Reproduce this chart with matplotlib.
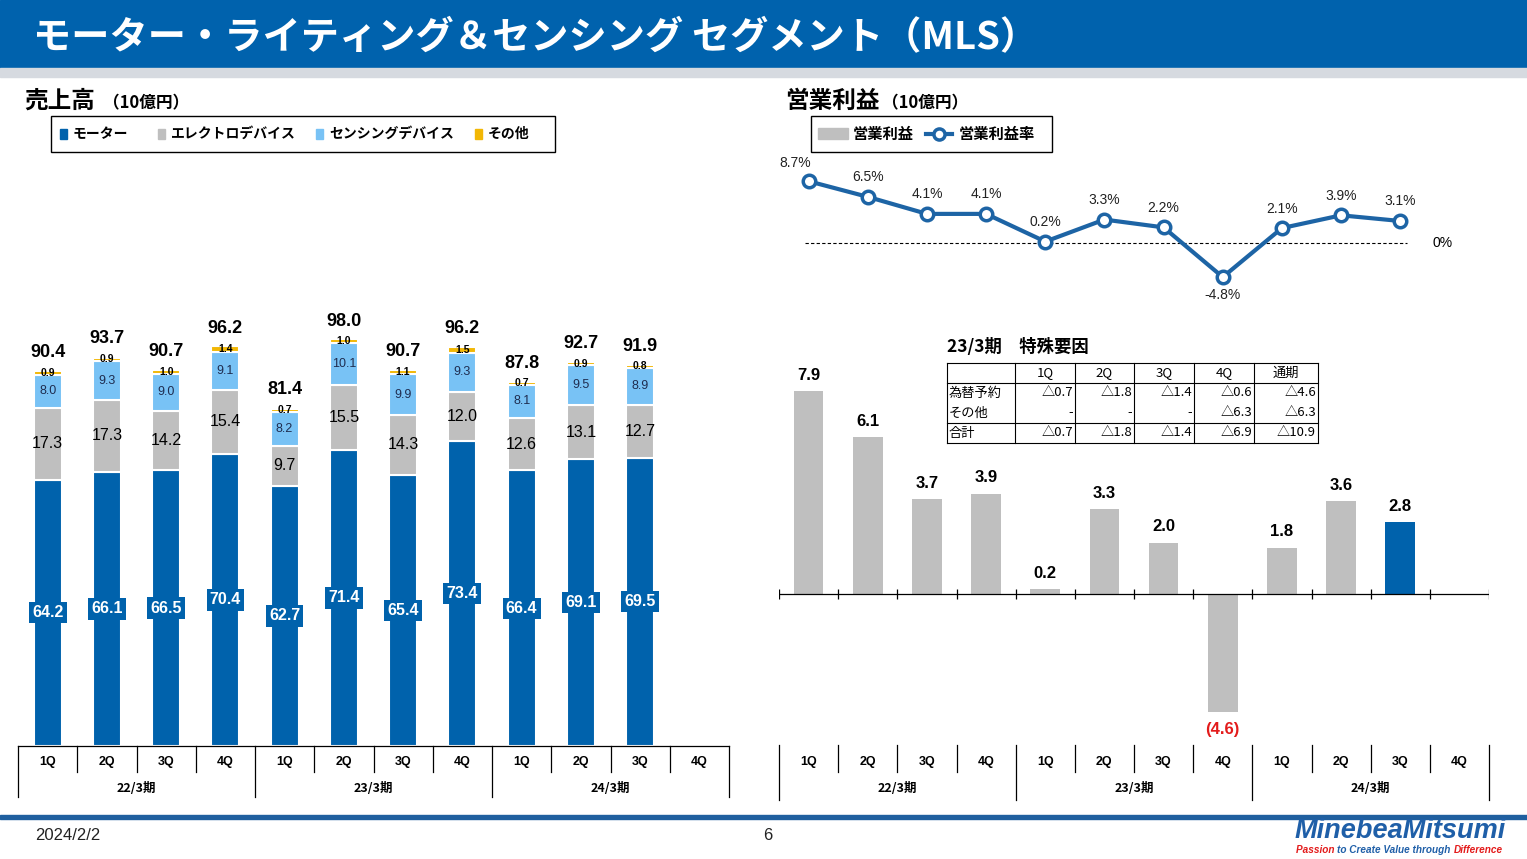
"""Segment MLS : ventes trimestrielles empilées et résultat opérationnel."""

import matplotlib
matplotlib.use("Agg")
import matplotlib.pyplot as plt
from matplotlib.patches import Rectangle
from matplotlib.transforms import blended_transform_factory

W, H = 1527, 859

TITRE = "モーター・ライティング＆センシング セグメント（MLS）"
trimestres = ["1Q", "2Q", "3Q", "4Q"] * 3
periodes = ["22/3期", "23/3期", "24/3期"]

# ventes (10億円)
moteur = [64.2, 66.1, 66.5, 70.4, 62.7, 71.4, 65.4, 73.4, 66.4, 69.1, 69.5]
electro = [17.3, 17.3, 14.2, 15.4, 9.7, 15.5, 14.3, 12.0, 12.6, 13.1, 12.7]
capteurs = [8.0, 9.3, 9.0, 9.1, 8.2, 10.1, 9.9, 9.3, 8.1, 9.5, 8.9]
autres = [0.9, 0.9, 1.0, 1.4, 0.7, 1.0, 1.1, 1.5, 0.7, 0.9, 0.8]
totaux = [90.4, 93.7, 90.7, 96.2, 81.4, 98.0, 90.7, 96.2, 87.8, 92.7, 91.9]
legende_ventes = ["モーター", "エレクトロデバイス", "センシングデバイス", "その他"]

# résultat opérationnel (10億円) et marge (%)
resultat = [7.9, 6.1, 3.7, 3.9, 0.2, 3.3, 2.0, -4.6, 1.8, 3.6, 2.8]
marge = [8.7, 6.5, 4.1, 4.1, 0.2, 3.3, 2.2, -4.8, 2.1, 3.9, 3.1]
legende_resultat = ["営業利益", "営業利益率"]

# tableau des éléments exceptionnels 23/3期
tab_titre = "23/3期　特殊要因"
tab_colonnes = ["1Q", "2Q", "3Q", "4Q", "通期"]
tab_lignes = ["為替予約", "その他", "合計"]
tab_valeurs = [
    ["△0.7", "△1.8", "△1.4", "△0.6", "△4.6"],
    ["-", "-", "-", "△6.3", "△6.3"],
    ["△0.7", "△1.8", "△1.4", "△6.9", "△10.9"],
]

BLEU = "#0062AC"
BLEU_LIGNE = "#1D64A5"
GRIS = "#BFBFBF"
CIEL = "#78C2F5"
JAUNE = "#F2B705"
ROUGE = "#E31B1B"
JP = ["Noto Sans CJK JP", "DejaVu Sans"]

plt.rcParams["font.family"] = ["Liberation Sans", "Noto Sans CJK JP"]

fig = plt.figure(figsize=(W / 100, H / 100), dpi=100)
fond = fig.add_axes([0, 0, 1, 1])
fond.set_xlim(0, W)
fond.set_ylim(H, 0)
fond.axis("off")


def axes_px(x0, y0, x1, y1):
    ax = fig.add_axes([x0 / W, 1 - y1 / H, (x1 - x0) / W, (y1 - y0) / H])
    ax.axis("off")
    ax.set_xlim(-0.5, len(trimestres) - 0.5)
    return ax


def axe_categories(ax, y_haut, y_trim, y_groupe):
    tr = blended_transform_factory(ax.transData, fond.transData)
    for k in range(len(trimestres) + 1):
        bas = y_groupe if k % 4 == 0 else y_trim
        ax.plot([k - 0.5, k - 0.5], [y_haut, bas], transform=tr,
                color="black", lw=0.9, clip_on=False)
    for k, q in enumerate(trimestres):
        ax.text(k, 762, q, transform=tr, ha="center", va="center",
                fontsize=9, fontweight="bold")
    for g, p in enumerate(periodes):
        ax.text(g * 4 + 1.5, 788, p, transform=tr, ha="center", va="center",
                fontsize=9, fontweight="bold", family=JP)


# bandeau
fond.add_patch(Rectangle((0, 0), W, 68, color="#0062AD"))
fond.add_patch(Rectangle((0, 68), W, 9, color="#D6DAE0"))
fond.text(33, 37, TITRE, color="white", fontsize=27.5, fontweight="bold",
          family=JP, va="center")

# pied de page
fond.add_patch(Rectangle((0, 815), W, 3.5, color="#1F5F9F"))
fond.text(35, 835, "2024/2/2", fontsize=12, va="center", color="#222222")
fond.text(763, 835, "6", fontsize=12, va="center", color="#222222")
fond.text(1295, 831, "MinebeaMitsumi", fontsize=19.5, fontweight="bold",
          style="italic", color="#1F5FA8", va="center")
rend = fig.canvas.get_renderer()
x_txt = 1296
for mot, coul in [("Passion ", ROUGE), ("to Create Value through ", "#1F5FA8"),
                  ("Difference", ROUGE)]:
    t = fond.text(x_txt, 850, mot, fontsize=7.2, fontweight="bold",
                  style="italic", color=coul, va="center")
    x_txt += t.get_window_extent(rend).width

# titres de section
fond.text(24, 101, "売上高", fontsize=17, fontweight="bold", family=JP, va="center")
fond.text(103, 103, "（10億円）", fontsize=12, fontweight="bold", family=JP, va="center")
fond.text(785, 101, "営業利益", fontsize=17, fontweight="bold", family=JP, va="center")
fond.text(882, 103, "（10億円）", fontsize=12, fontweight="bold", family=JP, va="center")

# légende ventes
fond.add_patch(Rectangle((51, 116), 504, 36, fill=False, ec="black", lw=1))
for nom, coul, xm in zip(legende_ventes, [BLEU, GRIS, CIEL, JAUNE], [60, 158, 316, 475]):
    fond.add_patch(Rectangle((xm, 129), 7, 10, color=coul))
    fond.text(xm + 13, 134, nom, fontsize=10, fontweight="bold", family=JP, va="center")

# légende résultat
fond.add_patch(Rectangle((811, 116), 241, 36, fill=False, ec="black", lw=1))
fond.add_patch(Rectangle((818, 128), 30, 11, color=GRIS))
fond.text(853, 134, legende_resultat[0], fontsize=11, fontweight="bold", family=JP, va="center")
fond.plot([926, 952], [134, 134], color=BLEU_LIGNE, lw=3)
fond.plot([939], [134], marker="o", ms=8, mfc="white", mec=BLEU_LIGNE, mew=2.5)
fond.text(959, 134, legende_resultat[1], fontsize=11, fontweight="bold", family=JP, va="center")

# --- ventes empilées ---
ax1 = axes_px(18, 300, 729, 746)
ax1.set_ylim(0, 446 / 4.15)
x = list(range(len(moteur)))
bas = [0.0] * len(x)
series = [(moteur, BLEU), (electro, GRIS), (capteurs, CIEL), (autres, JAUNE)]
for vals, coul in series:
    ax1.bar(x, vals, width=0.47, bottom=bas, color=coul, edgecolor="white", linewidth=1.5)
    for i, v in enumerate(vals):
        yc = bas[i] + v / 2
        if coul == BLEU:
            ax1.text(i, yc, f"{v:.1f}", ha="center", va="center", color="white",
                     fontsize=11.5, fontweight="bold",
                     bbox=dict(boxstyle="square,pad=0.2", fc=BLEU, ec="none"))
        elif coul == GRIS:
            ax1.text(i, yc, f"{v:.1f}", ha="center", va="center", fontsize=11.5)
        elif coul == CIEL:
            ax1.text(i, yc, f"{v:.1f}", ha="center", va="center", fontsize=9,
                     color="#1F2D50")
        else:
            ax1.text(i, yc, f"{v:.1f}", ha="center", va="center", fontsize=7.5,
                     fontweight="bold")
    bas = [b + v for b, v in zip(bas, vals)]
for i, tot in enumerate(totaux):
    ax1.annotate(f"{tot:.1f}", (i, tot), xytext=(0, 7), textcoords="offset points",
                 ha="center", va="bottom", fontsize=13, fontweight="bold")
ax1.axhline(0, color="black", lw=0.9, clip_on=False)
axe_categories(ax1, 746, 772, 797)

# --- résultat opérationnel ---
ax2 = axes_px(779, 340, 1489, 745)
ax2.set_ylim(-(745 - 594) / 25.7, (594 - 340) / 25.7)
couleurs = [BLEU if i == len(resultat) - 1 else GRIS for i in range(len(resultat))]
ax2.bar(x, resultat, width=0.5, color=couleurs)
for i, v in enumerate(resultat):
    if v >= 0:
        ax2.annotate(f"{v:.1f}", (i, v), xytext=(0, 6), textcoords="offset points",
                     ha="center", va="bottom", fontsize=12, fontweight="bold")
    else:
        ax2.annotate(f"({abs(v):.1f})", (i, v), xytext=(0, -7), textcoords="offset points",
                     ha="center", va="top", fontsize=12, fontweight="bold", color=ROUGE)
ax2.axhline(0, color="black", lw=0.9)
ax2.vlines([k - 0.5 for k in range(len(trimestres) + 1)], -0.2, 0.2, color="black", lw=0.9)
axe_categories(ax2, 745, 772, 800)

# --- marge opérationnelle ---
ax3 = axes_px(779, 150, 1489, 300)
ax3.set_ylim(-(300 - 243) / 7.1, (243 - 150) / 7.1)
ax3.hlines(0, -0.06, 10.12, color="black", lw=0.8, linestyles=(0, (3, 2)))
ax3.text(10.72, 0, "0%", ha="center", va="center", fontsize=10)
ax3.plot(x, marge, color=BLEU_LIGNE, lw=3, marker="o", ms=9, mfc="white",
         mec=BLEU_LIGNE, mew=2.5, zorder=3)
for i, m in enumerate(marge):
    if m < 0:
        dx, dy, va = 0, -8, "top"
    elif i == 0:
        dx, dy, va = -10, 8, "bottom"
    else:
        dx, dy, va = 0, 9, "bottom"
    ax3.annotate(f"{m:.1f}%", (i, m), xytext=(dx, dy), textcoords="offset points",
                 ha="center", va=va, fontsize=10, color="#222222")

# tableau
fond.text(947, 347, tab_titre, fontsize=12.5, fontweight="bold", family=JP, va="center")
bords_x = [947, 1015, 1075, 1134, 1194, 1254, 1318]
bords_y = [363, 383, 403, 423, 443]
for bx in bords_x:
    fond.plot([bx, bx], [bords_y[0], bords_y[-1]], color="black", lw=0.8)
for k in [0, 1, 3, 4]:
    fond.plot([bords_x[0], bords_x[-1]], [bords_y[k], bords_y[k]], color="black", lw=0.8)
for j, col in enumerate(tab_colonnes):
    fond.text((bords_x[j + 1] + bords_x[j + 2]) / 2, 373, col, ha="center", va="center",
              fontsize=9.5, family=JP)
for r, (lab, vals) in enumerate(zip(tab_lignes, tab_valeurs)):
    yc = (bords_y[r + 1] + bords_y[r + 2]) / 2
    fond.text(bords_x[0] + 2, yc, lab, ha="left", va="center", fontsize=9.5, family=JP)
    for j, v in enumerate(vals):
        fond.text(bords_x[j + 2] - 2, yc, v, ha="right", va="center", fontsize=9.5, family=JP)

fig.savefig("out.png", dpi=100)
